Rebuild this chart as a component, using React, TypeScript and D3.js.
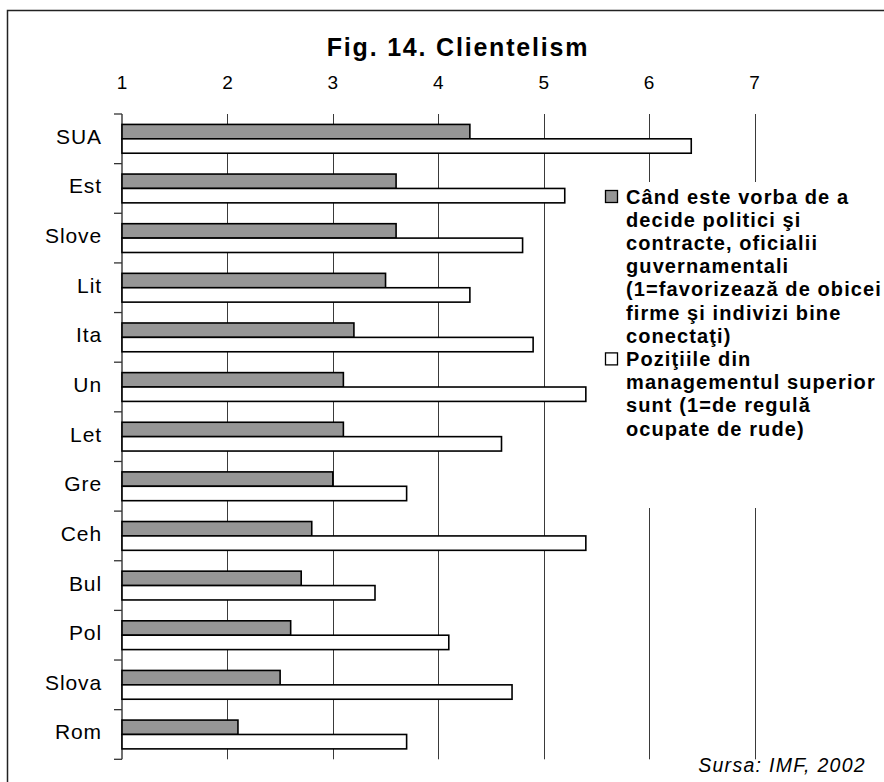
import React from "react";
import * as d3 from "d3";

const categories = ["SUA", "Est", "Slove", "Lit", "Ita", "Un", "Let", "Gre", "Ceh", "Bul", "Pol", "Slova", "Rom"];
const seriesFavor = [4.3, 3.6, 3.6, 3.5, 3.2, 3.1, 3.1, 3.0, 2.8, 2.7, 2.6, 2.5, 2.1];
const seriesMgmt = [6.4, 5.2, 4.8, 4.3, 4.9, 5.4, 4.6, 3.7, 5.4, 3.4, 4.1, 4.7, 3.7];
const xTicks = [1, 2, 3, 4, 5, 6, 7];
const legendFavor = [
  "Când este vorba de a",
  "decide politici şi",
  "contracte, oficialii",
  "guvernamentali",
  "(1=favorizează de obicei",
  "firme şi indivizi bine",
  "conectaţi)",
];
const legendMgmt = [
  "Poziţiile din",
  "managementul superior",
  "sunt (1=de regulă",
  "ocupate de rude)",
];
const title = "Fig. 14. Clientelism";
const source = "Sursa: IMF, 2002";

const FONT = "Arial, 'Liberation Sans', sans-serif";

export default function App() {
  const W = 884;
  const H = 782;
  const x = d3.scaleLinear().domain([1, 7]).range([122, 754.5]);
  const yTop = 114;
  const yBot = 759.3;
  const y = d3.scaleBand<string>().domain(categories).range([yTop, yBot]).paddingInner(0.42).paddingOuter(0.21);
  const ySub = d3.scaleBand<string>().domain(["favor", "mgmt"]).range([0, y.bandwidth()]);
  const step = (yBot - yTop) / categories.length;
  const boundaries = d3.range(categories.length + 1).map((i) => yTop + i * step);

  const legendX = 626;
  const legendBase = 203.5;
  const lineH = 23.2;
  const allLines = [...legendFavor, ...legendMgmt];

  return (
    <svg width={W} height={H} style={{ position: "absolute", left: 0, top: 0, background: "#fff" }} fontFamily={FONT}>
      <rect x={0} y={0} width={W} height={H} fill="#fff" />
      {/* frame */}
      <rect x={7.5} y={10.5} width={1000} height={1000} fill="none" stroke="#222" strokeWidth={1.5} />
      {/* title */}
      <text x={458} y={56} textAnchor="middle" fontSize={25} fontWeight="bold" letterSpacing={1.8} fill="#000">
        {title}
      </text>
      {/* top tick labels */}
      {xTicks.map((t) => (
        <text key={"tl" + t} x={x(t)} y={88.5} textAnchor="middle" fontSize={19} fill="#000">
          {t}
        </text>
      ))}
      {/* gridlines */}
      {xTicks.slice(1).map((t) => (
        <line key={"g" + t} x1={Math.round(x(t)) + 0.5} x2={Math.round(x(t)) + 0.5} y1={yTop} y2={yBot} stroke="#3a3a3a" strokeWidth={1} />
      ))}
      {/* axis line and ticks */}
      <line x1={122} x2={122} y1={yTop} y2={yBot} stroke="#222" strokeWidth={1.3} />
      {boundaries.map((b, i) => (
        <line key={"t" + i} x1={114} x2={122} y1={b} y2={b} stroke="#333" strokeWidth={1.3} />
      ))}
      {/* bars */}
      {categories.map((c, i) => {
        const y0 = y(c) as number;
        return (
          <g key={"b" + c}>
            <rect
              x={x(1)}
              y={y0 + (ySub("favor") as number)}
              width={x(seriesFavor[i]) - x(1)}
              height={ySub.bandwidth()}
              fill="#969696"
              stroke="#000"
              strokeWidth={1.6}
            />
            <rect
              x={x(1)}
              y={y0 + (ySub("mgmt") as number)}
              width={x(seriesMgmt[i]) - x(1)}
              height={ySub.bandwidth()}
              fill="#fff"
              stroke="#000"
              strokeWidth={1.6}
            />
          </g>
        );
      })}
      {/* category labels */}
      {categories.map((c) => (
        <text
          key={"cl" + c}
          x={102}
          y={(y(c) as number) + y.bandwidth() / 2 + 5}
          textAnchor="end"
          fontSize={21}
          letterSpacing={0.9}
          fill="#000"
        >
          {c}
        </text>
      ))}
      {/* legend */}
      <rect x={598} y={182} width={290} height={326} fill="#fff" />
      <rect x={605.5} y={190.5} width={12} height={12} fill="#969696" stroke="#000" strokeWidth={1.3} />
      <rect x={605.5} y={190.5 + 7 * lineH} width={12} height={12} fill="#fff" stroke="#000" strokeWidth={1.3} />
      {allLines.map((l, i) => (
        <text key={"lg" + i} x={legendX} y={legendBase + i * lineH} fontSize={20} fontWeight="bold" letterSpacing={1.1} fill="#000">
          {l}
        </text>
      ))}
      {/* source */}
      <text x={866} y={772} textAnchor="end" fontSize={19.5} fontStyle="italic" letterSpacing={1.3} fill="#000">
        {source}
      </text>
    </svg>
  );
}
